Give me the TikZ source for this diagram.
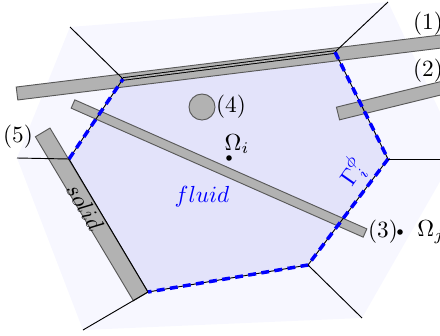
\documentclass[tikz,border=0pt]{standalone}
\usepackage{amsmath,amssymb}
\usepackage{tikz}
\usetikzlibrary{calc}
\definecolor{mybg}{rgb}{0.97,0.97,1}
\definecolor{myfluid}{rgb}{0.89,0.89,0.98}
\definecolor{mysolid}{rgb}{0.7,0.7,0.7}
\definecolor{myblue}{rgb}{0,0,1}
\tikzset{solidbar/.style={fill=mysolid,draw=black!65,line width=.4pt},
  interface/.style={myblue,line width=1.5pt,dash pattern=on 3.4pt off 2.3pt}}
\newcommand{\solidbar}[3]{%
  \filldraw[solidbar] ($(#1)!#3!90:(#2)$) -- ($(#1)!#3!-90:(#2)$)
    -- ($(#2)!#3!90:(#1)$) -- ($(#2)!#3!-90:(#1)$) -- cycle;}

\begin{document}
\begin{tikzpicture}[x=0.43pt,y=-0.43pt]
  \clip (0,0) rectangle (440,335);
  % cell i, its faces and the neighbour cells
  \coordinate (A) at (123,79);  \coordinate (B) at (335,52);
  \coordinate (C) at (388,159); \coordinate (D) at (308,265);
  \coordinate (E) at (148,292); \coordinate (F) at (69,159);
  \coordinate (O1) at (70,27);  \coordinate (O2) at (388,2);
  \coordinate (O3) at (458,159); \coordinate (O4) at (362,318);
  \coordinate (O5) at (83,330); \coordinate (O6) at (17,158);
  \fill[mybg] (O1) -- (O2) -- (458,150) -- (O4) -- (O5) -- (O6) -- cycle;
  \fill[myfluid] (A) -- (B) -- (C) -- (D) -- (E) -- (F) -- cycle;
  % solids
  \coordinate (s1a) at (17,93.5);  \coordinate (s1b) at (445,41);
  \coordinate (s2a) at (338,113.5); \coordinate (s2b) at (448,86.5);
  \coordinate (s3a) at (73,104);   \coordinate (s3b) at (365,233);
  \coordinate (s5a) at (42.7,132.4); \coordinate (s5b) at (140.7,296.4);
  \solidbar{s1a}{s1b}{2.8pt}
  \solidbar{s2a}{s2b}{2.8pt}
  \solidbar{s3a}{s3b}{1.95pt}
  \solidbar{s5a}{s5b}{3.65pt}
  \filldraw[solidbar] (202,107) circle[radius=5.6pt];
  % faces
  \draw[double=mysolid,double distance=.7pt] (A) -- (B);
  \draw (B) -- (C) -- (D) -- (E) -- (F) -- (A);
  \draw[interface] (F) -- (A);
  \draw[interface] (B) -- (C) -- (D) -- (E);
  \foreach \cv/\ov in {A/O1,B/O2,C/O3,D/O4,E/O5,F/O6}
    \draw (\cv) -- (\ov);
  % labels
  \foreach \lx/\ly/\ltxt in {428/24/1,428/71/2,383/232/3,231/107/4,18/137/5}
    \node at (\lx,\ly) {$(\ltxt)$};
  \fill (229,158) circle[radius=1.2pt];
  \node at (237,144) {$\Omega_i$};
  \fill (400,232) circle[radius=1.2pt];
  \node[anchor=west,inner sep=0pt] at (417,232) {$\Omega_j$};
  \node[text=myblue] at (202,197) {$fluid$};
  \node[text=myblue,rotate=55] at (353,172) {$\Gamma_i^\phi$};
  \node[rotate=-59] at (85,207) {$solid$};
\end{tikzpicture}
\end{document}
